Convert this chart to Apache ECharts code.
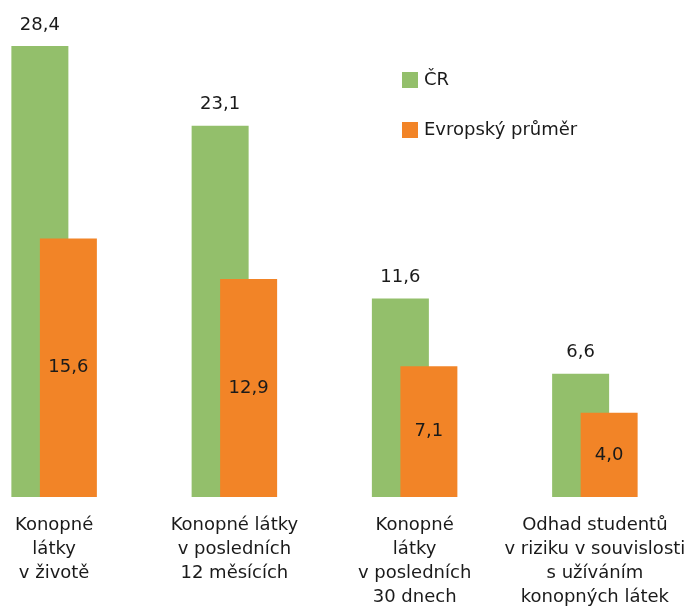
<!DOCTYPE html>
<html lang="cs">
<head>
    <meta charset="UTF-8">
    <script src="https://cdn.jsdelivr.net/npm/echarts@6/dist/echarts.min.js"></script>
    <title>Konopné látky</title>
    <style>
      html, body { margin: 0; padding: 0; background: #fff; }
      #chart { width: 697px; height: 610px; }
    </style>
</head>
<body>
  <div id="chart"></div>
<script>
  var categories = [
    'Konopné\nlátky\nv životě',
    'Konopné látky\nv posledních\n12 měsících',
    'Konopné\nlátky\nv posledních\n30 dnech',
    'Odhad studentů\nv riziku v souvislosti\ns užíváním\nkonopných látek'
  ];
  var seriesNames = ['ČR', 'Evropský průměr'];
  var crValues = [28.4, 23.1, 11.6, 6.6];
  var euValues = [15.6, 12.9, 7.1, 4.0];

  var font = 'DejaVu Sans';
  function fmt(p) { return String(p.value.toFixed(1)).replace('.', ','); }

  var myChart = echarts.init(document.getElementById('chart'));
  var option = {
    animation: false,
    textStyle: { fontFamily: font },
    legend: {
      orient: 'vertical',
      left: 397,
      top: 66,
      itemWidth: 16,
      itemHeight: 16,
      itemGap: 32,
      icon: 'rect',
      textStyle: { fontSize: 18, color: '#1a1a1a', fontFamily: font, padding: [0, 0, 0, 1] },
      data: seriesNames
    },
    grid: { left: -36, right: 12, top: 46, bottom: 113, outerBoundsMode: 'none' },
    xAxis: {
      type: 'category',
      data: categories,
      axisLine: { show: false },
      axisTick: { show: false },
      axisLabel: {
        interval: 0,
        margin: 16,
        fontSize: 18,
        lineHeight: 24,
        color: '#1a1a1a',
        fontFamily: font
      }
    },
    yAxis: {
      type: 'value',
      min: -1.6,
      max: 28.4,
      startValue: -1.6,
      show: false,
      splitLine: { show: false }
    },
    series: [
      {
        name: seriesNames[0],
        type: 'bar',
        data: crValues,
        barWidth: 57,
        barGap: '-50%',
        itemStyle: { color: '#93bf6b' },
        label: { show: true, position: 'top', distance: 12, fontSize: 18, color: '#1a1a1a', formatter: fmt }
      },
      {
        name: seriesNames[1],
        type: 'bar',
        data: euValues,
        barWidth: 57,
        itemStyle: { color: '#f28427' },
        label: { show: true, position: 'inside', fontSize: 18, color: '#1a1a1a', formatter: fmt }
      }
    ]
  };
  myChart.setOption(option);
</script>
</body>
</html>
